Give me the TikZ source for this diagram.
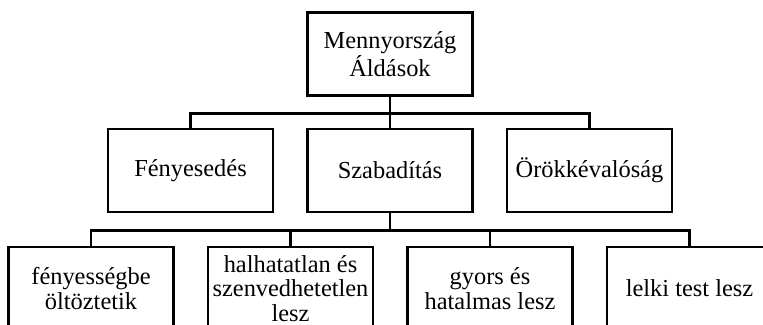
\documentclass[tikz,border=0pt]{standalone}
\usepackage{fontspec}
\setmainfont{Liberation Serif}
\usepackage{tikz}

\begin{document}
\begin{tikzpicture}[node distance=99.75pt, line width=1.05pt, box/.style={rectangle,draw,minimum width=82.5pt,minimum height=41.5pt,align=center,inner sep=0.5pt,font=\fontsize{12.2}{12.4}\selectfont}]
\useasboundingbox (-195pt,27pt) rectangle (186.5pt,-135.5pt);
\clip (-195pt,27pt) rectangle (186.5pt,-135.5pt);
\node[box] (M) {Mennyország\\Áldások};
\node[box] (S) [below of=M, node distance=58.25pt] {Szabadítás};
\node[box] (F) [left of=S] {Fényesedés};
\node[box] (O) [right of=S] {Örökkévalóság};
\node[box] (B) [below of=S, node distance=59pt, xshift=-49.75pt] {halhatatlan és\\szenvedhetetlen\\lesz};
\node[box] (A) [left of=B] {fényességbe\\öltöztetik};
\node[box] (C) [right of=B] {gyors és\\hatalmas lesz};
\node[box] (D) [right of=C] {lelki test lesz};
\draw (M) -- (S);
\draw (M.south) -- ++(0,-8.5pt) -| (F);
\draw (M.south) -- ++(0,-8.5pt) -| (O);
\draw (S.south) -- ++(0,-8.75pt) -| (A);
\draw (S.south) -- ++(0,-8.75pt) -| (B);
\draw (S.south) -- ++(0,-8.75pt) -| (C);
\draw (S.south) -- ++(0,-8.75pt) -| (D);
\end{tikzpicture}
\end{document}
